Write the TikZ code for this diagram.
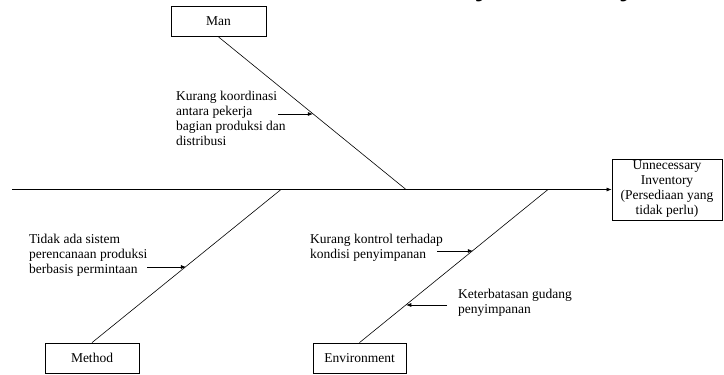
\documentclass[tikz,border=0pt]{standalone}
\usepackage{fontspec}
\setmainfont{Liberation Serif}
\usetikzlibrary{arrows.meta,calc}
\begin{document}
\begin{tikzpicture}[x=1pt,y=-1pt,
  every node/.style={font=\fontsize{13.5}{15}\selectfont, inner sep=0pt},
  catbox/.style={draw, line width=0.8pt, minimum height=30pt},
  bone/.style={line width=0.6pt},
  causearrow/.style={line width=0.6pt, -{Latex[length=5pt,width=4pt]}},
  causetext/.style={anchor=north west, align=left}
]
\useasboundingbox (0,0) rectangle (724,375);
\begin{scope}
\clip (0,0) rectangle (724,375);
\node[anchor=base west, font=\fontsize{34}{36}\selectfont\bfseries\itshape] (title) at (315,-6) {Unnecessary Inventory};
\end{scope}
% category boxes
\node[catbox, minimum width=95pt] (man) at (218.5,21.5) {Man};
\node[catbox, minimum width=94pt] (method) at (92,358) {Method};
\node[catbox, minimum width=93pt] (env) at (359.5,358) {Environment};
% effect box
\node[draw, line width=0.8pt, minimum width=110pt, minimum height=61pt, align=center] (effect) at (667,189.5) {Unnecessary\\Inventory\\(Persediaan yang\\tidak perlu)};
% spine
\coordinate (tail) at (12,189.5);
\draw[causearrow] (tail) -- (effect.west);
% bones
\coordinate (jman) at (406,189.5);
\coordinate (jmethod) at (281,189.5);
\coordinate (jenv) at (548,189.5);
\draw[bone] (man.south) -- (jman);
\draw[bone] (method.north) -- (jmethod);
\draw[bone] (env.north) -- (jenv);
% cause arrows
\coordinate (a1) at ($(man.south)!0.503!(jman)$);
\coordinate (a1s) at (278,114);
\draw[causearrow] (a1s) -- (a1s -| a1);
\coordinate (a2) at ($(method.north)!0.497!(jmethod)$);
\coordinate (a2s) at (147,267);
\draw[causearrow] (a2s) -- (a2s -| a2);
\coordinate (a3) at ($(env.north)!0.601!(jenv)$);
\coordinate (a3s) at (437,251);
\draw[causearrow] (a3s) -- (a3s -| a3);
\coordinate (a4) at ($(env.north)!0.248!(jenv)$);
\coordinate (a4s) at (447,305);
\draw[causearrow] (a4s) -- (a4s -| a4);
% cause texts
\node[causetext] (t1) at (176,91) {Kurang koordinasi\\antara pekerja\\bagian produksi dan\\distribusi};
\node[causetext] (t2) at (29,234) {Tidak ada sistem\\perencanaan produksi\\berbasis permintaan};
\node[causetext] (t3) at (310,234) {Kurang kontrol terhadap\\kondisi penyimpanan};
\node[causetext] (t4) at (458,289) {Keterbatasan gudang\\penyimpanan};
\end{tikzpicture}
\end{document}
